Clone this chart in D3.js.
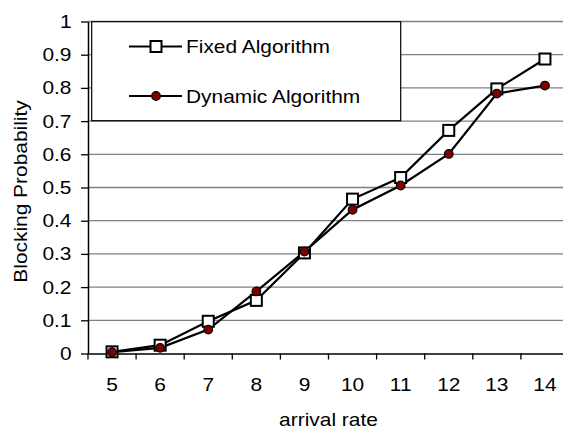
<!DOCTYPE html>
<html lang='en'>
<head>
    <meta charset='UTF-8'>
    <title>Blocking Probability</title>
    <style>
        body {
            margin: 0;
            background: #fff;
        }

        svg text {
            font-family: Arial, 'Liberation Sans', sans-serif;
            fill: #000;
        }

        .grid line {
            stroke: #808080;
            stroke-width: 1.3px;
        }

        .series path {
            fill: none;
            stroke: #000;
            stroke-width: 2.2px;
        }
    </style>
</head>
<body>
    <div id="chart"></div>
    <script src='https://d3js.org/d3.v7.min.js'></script>
    <script>
        const arrivalRates = ['5', '6', '7', '8', '9', '10', '11', '12', '13', '14']
        const fixedValues = [0.005, 0.025, 0.097, 0.16, 0.303, 0.465, 0.53, 0.672, 0.797, 0.887]
        const dynamicValues = [0.004, 0.017, 0.072, 0.187, 0.307, 0.433, 0.506, 0.601, 0.783, 0.807]
        const yTicks = [0, 0.1, 0.2, 0.3, 0.4, 0.5, 0.6, 0.7, 0.8, 0.9, 1]
        const seriesNames = ['Fixed Algorithm', 'Dynamic Algorithm']

        const width = 563
        const height = 428
        const fontSize = 19
        const textStretch = 1.1 // the original picture is a bit wider than tall
        // plot area runs off the right edge of the picture, like the original
        const plot = { left: 88, right: 569, top: 21.5, bottom: 353.5 }

        const x = d3.scaleBand()
            .domain(arrivalRates)
            .range([plot.left, plot.right])

        const y = d3.scaleLinear()
            .domain([0, 1])
            .range([plot.bottom, plot.top])

        const svg = d3.select('#chart')
            .append('svg')
            .attr('width', width)
            .attr('height', height)

        // horizontal gridlines
        svg.append('g')
            .attr('class', 'grid')
            .selectAll('line')
            .data(yTicks.slice(1))
            .join('line')
            .attr('x1', plot.left)
            .attr('x2', plot.right)
            .attr('y1', d => y(d))
            .attr('y2', d => y(d))

        // y axis
        const yAxis = svg.append('g')
            .attr('transform', `translate(${plot.left},0)`)
            .call(d3.axisLeft(y).tickValues(yTicks).tickFormat(d3.format('~g')).tickSize(7).tickSizeOuter(0))
        yAxis.select('.domain').attr('stroke', '#000').attr('stroke-width', 1.5)
        yAxis.selectAll('.tick line').attr('stroke', '#000').attr('stroke-width', 1.3)
        yAxis.selectAll('.tick text')
            .attr('x', -16.5)
            .attr('font-size', fontSize)
            .attr('font-family', null)

        // x axis, ticks sit between categories
        const xAxis = svg.append('g')
            .attr('transform', `translate(0,${plot.bottom})`)
            .call(d3.axisBottom(x).tickSize(0).tickPadding(24))
        xAxis.select('.domain').attr('stroke', '#000').attr('stroke-width', 1.5)
        xAxis.selectAll('.tick text')
            .attr('font-size', fontSize)
            .attr('font-family', null)
        xAxis.append('g')
            .selectAll('line')
            .data(arrivalRates)
            .join('line')
            .attr('x1', d => x(d))
            .attr('x2', d => x(d))
            .attr('y1', 0)
            .attr('y2', 6)
            .attr('stroke', '#000')
            .attr('stroke-width', 1.3)

        // axis titles
        svg.append('text')
            .attr('x', (plot.left + plot.right) / 2)
            .attr('y', 425.5)
            .attr('text-anchor', 'middle')
            .attr('font-size', fontSize)
            .text('arrival rate')

        svg.append('text')
            .attr('transform', `translate(27,191.5) rotate(-90)`)
            .attr('text-anchor', 'middle')
            .attr('font-size', fontSize)
            .text('Blocking Probability')

        const line = d3.line()
            .x((d, i) => x(arrivalRates[i]) + x.bandwidth() / 2)
            .y(d => y(d))

        const series = svg.append('g').attr('class', 'series')

        series.append('path').attr('d', line(fixedValues))
        series.append('path').attr('d', line(dynamicValues))

        function drawSquare(g, cx, cy) {
            g.append('rect')
                .attr('x', cx - 5.5)
                .attr('y', cy - 5.5)
                .attr('width', 11)
                .attr('height', 11)
                .attr('fill', '#fff')
                .attr('stroke', '#000')
                .attr('stroke-width', 2)
        }

        function drawDot(g, cx, cy) {
            g.append('circle')
                .attr('cx', cx)
                .attr('cy', cy)
                .attr('r', 4.3)
                .attr('fill', '#800000')
                .attr('stroke', '#000')
                .attr('stroke-width', 1.2)
        }

        fixedValues.forEach((v, i) => drawSquare(series, x(arrivalRates[i]) + x.bandwidth() / 2, y(v)))
        dynamicValues.forEach((v, i) => drawDot(series, x(arrivalRates[i]) + x.bandwidth() / 2, y(v)))

        // legend
        const legend = svg.append('g')
        legend.append('rect')
            .attr('x', 91.7)
            .attr('y', 21.7)
            .attr('width', 309)
            .attr('height', 99)
            .attr('fill', '#fff')
            .attr('stroke', '#000')
            .attr('stroke-width', 1.2)

        const rows = [46.5, 96]
        seriesNames.forEach((name, i) => {
            legend.append('line')
                .attr('x1', 129)
                .attr('x2', 182)
                .attr('y1', rows[i])
                .attr('y2', rows[i])
                .attr('stroke', '#000')
                .attr('stroke-width', 2.2)
            if (i === 0) drawSquare(legend, 156, rows[i])
            else drawDot(legend, 156, rows[i])
            legend.append('text')
                .attr('x', 186)
                .attr('y', rows[i])
                .attr('dy', '0.35em')
                .attr('font-size', fontSize)
                .text(name)
        })

        // widen every label along its run to match the original's wide glyphs
        svg.selectAll('text').each(function () {
            const len = this.getComputedTextLength()
            d3.select(this)
                .attr('textLength', len * textStretch)
                .attr('lengthAdjust', 'spacingAndGlyphs')
        })
    </script>
</body>
</html>
